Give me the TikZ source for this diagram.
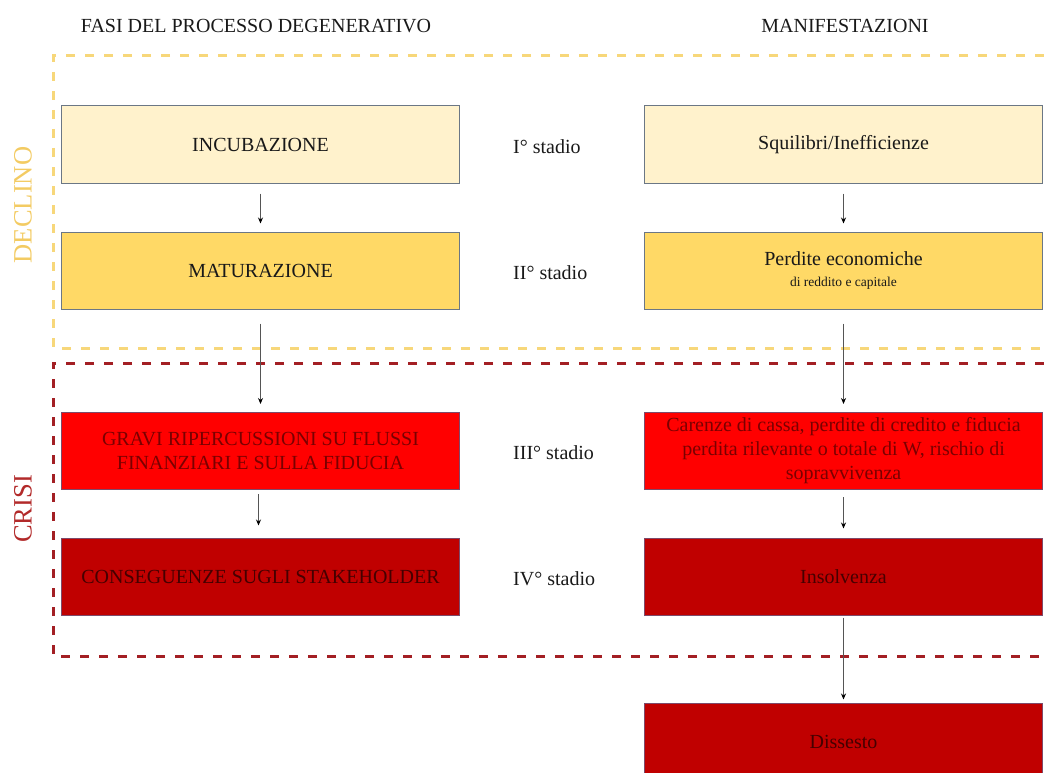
\documentclass[tikz,border=0pt]{standalone}
\usepackage{fontspec}
\setmainfont{Liberation Serif}
\usetikzlibrary{arrows.meta}

\definecolor{cream}{HTML}{FFF2CC}
\definecolor{gold}{HTML}{FFD966}
\definecolor{brightred}{HTML}{FF0000}
\definecolor{deepred}{HTML}{C00000}
\definecolor{boxline}{HTML}{6B7785}
\definecolor{redline}{HTML}{7D4A6A}
\definecolor{declinecol}{HTML}{F3CB63}
\definecolor{crisiscol}{HTML}{B22A2A}
\definecolor{yellowdash}{HTML}{F7D77A}
\definecolor{reddash}{HTML}{A31F24}
\definecolor{redtext}{HTML}{7A0000}
\definecolor{darkredtext}{HTML}{450000}
\definecolor{arrowgray}{HTML}{555555}

\begin{document}
\begin{tikzpicture}[x=1pt,y=-1pt,
  stagebox/.style={draw=boxline, line width=1pt, minimum width=398pt,
    minimum height=77pt, inner sep=0pt, align=center,
    font=\fontsize{20}{24}\selectfont, text=black!90},
  lightbox/.style={stagebox, fill=cream},
  goldbox/.style={stagebox, fill=gold},
  redbox/.style={stagebox, fill=brightred, draw=redline, text=redtext},
  darkbox/.style={stagebox, fill=deepred, draw=redline, text=darkredtext},
  header/.style={font=\fontsize{20}{24}\selectfont, text=black!90},
  stagelabel/.style={anchor=west, inner sep=0pt, font=\fontsize{20}{24}\selectfont, text=black!90},
  zonelabel/.style={rotate=90, inner sep=0pt, font=\fontsize{26.5}{30}\selectfont},
  flow/.style={draw=arrowgray, line width=0.8pt,
    -{Stealth[length=6pt,width=5pt,color=black]}},
  yzone/.style={draw=yellowdash, line width=3pt, dash pattern=on 9pt off 10pt},
  rzone/.style={draw=reddash, line width=3pt, dash pattern=on 9pt off 10pt}
]
\useasboundingbox (0,0) rectangle (1044,773);

% zone frames (open on the right edge)
\draw[yzone] (1044,56) -- (53,56) -- (53,348) -- (1044,348);
\draw[rzone] (1044,363) -- (53,363) -- (53,656) -- (1044,656);

% zone labels
\node[zonelabel, text=declinecol] (declino) at (23,205) {DECLINO};
\node[zonelabel, text=crisiscol] (crisi) at (23,509) {CRISI};

% column headers
\node[header] (hfasi) at (256,26) {FASI DEL PROCESSO DEGENERATIVO};
\node[header] (hman) at (845,26) {MANIFESTAZIONI};

% phases of the process
\node[lightbox] (incub) at (260.5,144.5) {INCUBAZIONE};
\node[goldbox] (matur) at (260.5,270.5) {MATURAZIONE};
\node[redbox] (gravi) at (260.5,451) {GRAVI RIPERCUSSIONI SU FLUSSI\\FINANZIARI E SULLA FIDUCIA};
\node[darkbox] (conseg) at (260.5,576.5) {CONSEGUENZE SUGLI STAKEHOLDER};

% stages
\node[stagelabel] (s1) at (513,147) {I° stadio};
\node[stagelabel] (s2) at (513,273) {II° stadio};
\node[stagelabel] (s3) at (513,453) {III° stadio};
\node[stagelabel] (s4) at (513,579) {IV° stadio};

% manifestations
\node[lightbox] (squil) at (843.5,144.5) {Squilibri/Inefficienze};
\node[goldbox] (perd) at (843.5,270.5) {Perdite economiche\\[-3pt]{\fontsize{13.5}{16}\selectfont di reddito e capitale}};
\node[redbox] (caren) at (843.5,451) {\fontsize{20}{25}\selectfont Carenze di cassa, perdite di credito e fiducia\\perdita rilevante o totale di W, rischio di\\sopravvivenza};
\node[darkbox] (insolv) at (843.5,576.5) {Insolvenza};
\node[darkbox] (disses) at (843.5,741.5) {Dissesto};

% connectors
\draw[flow, shorten <=10pt, shorten >=8pt] (incub.south) -- (matur.north);
\draw[flow, shorten <=14pt, shorten >=8pt] (matur.south) -- (gravi.north);
\draw[flow, shorten <=4pt, shorten >=12pt] ([xshift=-2pt]gravi.south) -- ([xshift=-2pt]conseg.north);
\draw[flow, shorten <=10pt, shorten >=8pt] (squil.south) -- (perd.north);
\draw[flow, shorten <=14pt, shorten >=8pt] (perd.south) -- (caren.north);
\draw[flow, shorten <=7pt, shorten >=9pt] (caren.south) -- (insolv.north);
\draw[flow, shorten <=2pt, shorten >=3pt] (insolv.south) -- (disses.north);
\end{tikzpicture}
\end{document}
